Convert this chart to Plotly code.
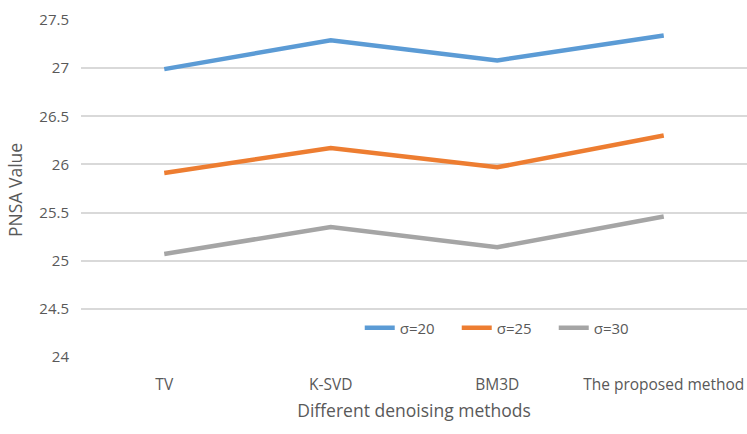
import plotly.graph_objects as go

methods = ["TV", "K-SVD", "BM3D", "The proposed method"]
sigma20 = [26.99, 27.29, 27.08, 27.34]
sigma25 = [25.91, 26.17, 25.97, 26.30]
sigma30 = [25.07, 25.35, 25.14, 25.46]

series = [
    ("σ=20", sigma20, "#5B9BD5"),
    ("σ=25", sigma25, "#ED7D31"),
    ("σ=30", sigma30, "#A5A5A5"),
]

fig = go.Figure()
for name, vals, color in series:
    fig.add_trace(go.Scatter(
        x=methods, y=vals, name=name, mode="lines",
        line=dict(color=color, width=4.5),
    ))

font_family = "Open Sans, Liberation Sans, sans-serif"
fig.update_layout(
    width=747, height=434,
    margin=dict(l=81, r=0, t=20, b=77),
    paper_bgcolor="white", plot_bgcolor="white",
    font=dict(family=font_family, color="#595959", size=15),
    showlegend=True,
    legend=dict(
        orientation="h", x=0.637, y=0.086, xanchor="center", yanchor="middle",
        bgcolor="rgba(0,0,0,0)", font=dict(size=15, color="#595959"),
        entrywidth=52, entrywidthmode="pixels", tracegroupgap=0,
    ),
    xaxis=dict(
        type="category", range=[-0.5, 3.5], showgrid=False, zeroline=False,
        showline=False, ticks="", tickfont=dict(size=15.5), ticklabelstandoff=16,
        title=dict(text="Different denoising methods", font=dict(size=17.5), standoff=11),
    ),
    yaxis=dict(
        range=[24, 27.5], dtick=0.5, showgrid=True, gridcolor="#D9D9D9",
        gridwidth=1.5, zeroline=False, showline=False, ticks="",
        tickfont=dict(size=15), ticklabelstandoff=11,
        tickformat="~g",
    ),
    annotations=[dict(
        text="PNSA Value", textangle=-90, showarrow=False,
        xref="paper", yref="paper", x=-0.099, y=0.496,
        xanchor="center", yanchor="middle",
        font=dict(size=17.5, color="#595959"),
    )],
)

fig.write_html("out.html")
